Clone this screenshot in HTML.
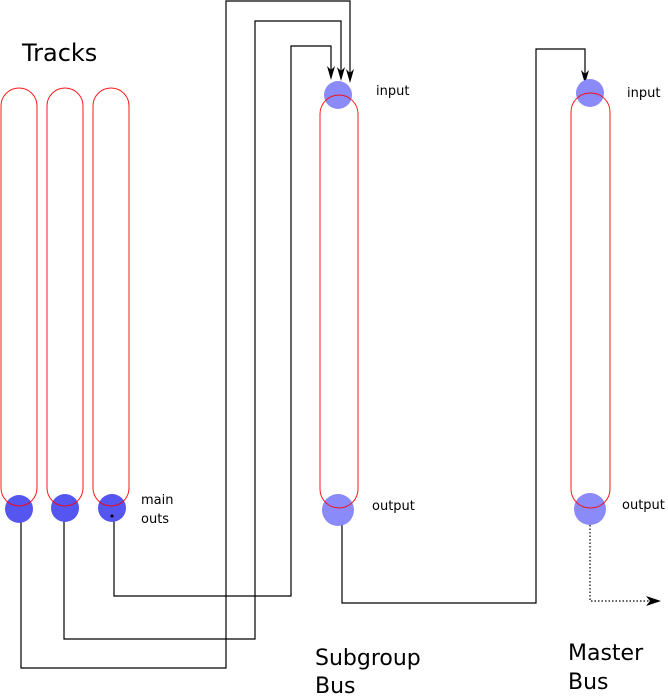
<!DOCTYPE html>
<html><head><meta charset="utf-8"><style>
html,body{margin:0;padding:0;background:#fff;}
svg{display:block;font-family:"DejaVu Sans","Liberation Sans",sans-serif;}
</style></head><body>
<svg width="668" height="696" viewBox="0 0 668 696" xmlns="http://www.w3.org/2000/svg">
<g fill="none" stroke="#000" stroke-width="1.2">
<polyline points="21,520 21,668 226,668 226,1 350,1 350,76"/>
<polyline points="64,520 64,639 255,639 255,21 341,21 341,76"/>
<polyline points="114,520 114,596 291,596 291,46 331,46 331,76"/>
<polyline points="342,522 342,603 536,603 536,49 585,49 585,78"/>
<polyline points="590,525 590,601 650,601" stroke-dasharray="1.5,2"/>
</g>
<g fill="#000">
<polygon points="346,69 350,83 354,69 350,73"/>
<polygon points="337,67 341,81 345,67 341,71"/>
<polygon points="327,66 331,80 335,66 331,70"/>
<polygon points="581,70 585,84 589,70 585,74"/>
<polygon points="646,596 661,601 646,606 650,601"/>
</g>
<g fill="#5555f0">
<circle cx="19" cy="509" r="14"/>
<circle cx="65" cy="508" r="14"/>
<circle cx="112" cy="508" r="14"/>
</g>
<g fill="#8a8af8">
<circle cx="338" cy="95" r="14"/>
<circle cx="338" cy="510" r="16"/>
<circle cx="590" cy="93" r="14"/>
<circle cx="590" cy="509" r="16"/>
</g>
<g fill="none" stroke="#ff0000" stroke-width="1" opacity="0.9">
<rect x="1" y="88" width="36" height="418" rx="18"/>
<rect x="47" y="88" width="36" height="418" rx="18"/>
<rect x="93" y="88" width="36" height="418" rx="18"/>
<rect x="320" y="95" width="38" height="413" rx="19"/>
<rect x="571" y="93" width="39" height="415" rx="19"/>
</g>
<circle cx="112" cy="516" r="1.5" fill="#000"/>
<g fill="#000">
<text x="22" y="61" font-size="24">Tracks</text>
<text x="376" y="95" font-size="13">input</text>
<text x="627" y="97" font-size="13">input</text>
<text x="141" y="504" font-size="13">main</text>
<text x="141" y="523" font-size="13">outs</text>
<text x="372" y="510" font-size="13">output</text>
<text x="622" y="509" font-size="13">output</text>
<text x="315" y="665" font-size="22">Subgroup</text>
<text x="315" y="693" font-size="22">Bus</text>
<text x="568" y="660" font-size="22">Master</text>
<text x="568" y="689" font-size="22">Bus</text>
</g>
</svg>
</body></html>
